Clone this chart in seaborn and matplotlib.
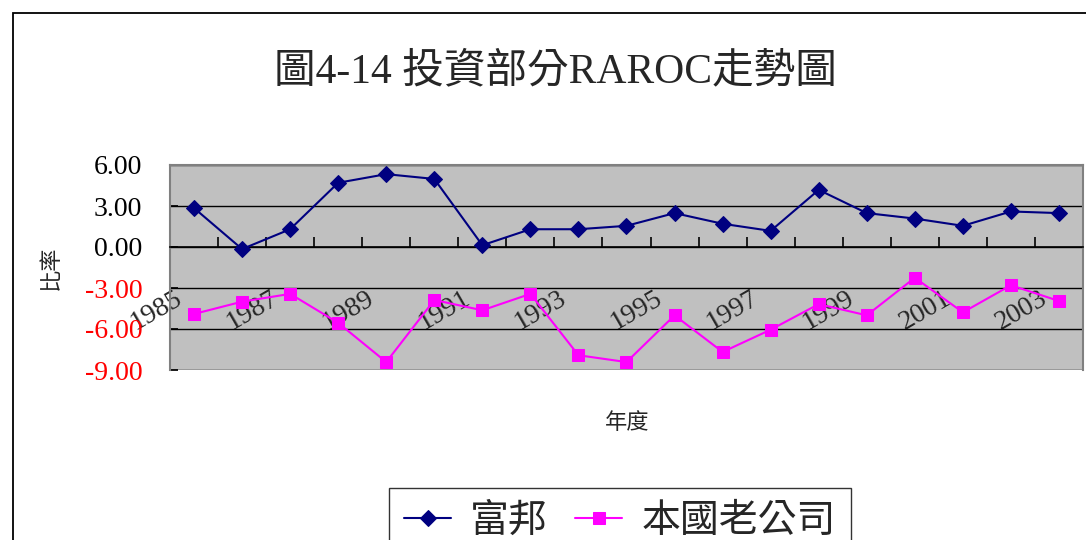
import matplotlib
matplotlib.use('Agg')
import matplotlib.pyplot as plt
import matplotlib.transforms as mtransforms
from matplotlib.patches import Rectangle
from matplotlib.ticker import FixedLocator
import seaborn as sns
import pandas as pd

# ---- data ----
years = list(range(1985, 2004))
fubon = [2.85, -0.15, 1.30, 4.70, 5.33, 4.98, 0.13, 1.30, 1.30, 1.55,
         2.48, 1.70, 1.18, 4.18, 2.48, 2.08, 1.55, 2.60, 2.48]
parent = [-4.90, -4.00, -3.43, -5.55, -8.42, -3.88, -4.63, -3.43, -7.92, -8.42,
          -5.00, -7.68, -6.05, -4.18, -5.00, -2.25, -4.78, -2.80, -3.95]
series_names = ['富邦', '本國老公司']
x_label_years = list(range(1985, 2004, 2))
y_ticks = [-9, -6, -3, 0, 3, 6]
y_tick_labels = ['-9.00', '-6.00', '-3.00', '0.00', '3.00', '6.00']
title = '圖4-14 投資部分RAROC走勢圖'
x_title = '年度'
y_title = '比率'

sns.set_theme(style='white')
plt.rcParams['font.family'] = ['Liberation Serif', 'Noto Sans CJK TC', 'DejaVu Sans']
plt.rcParams['axes.unicode_minus'] = False

W, H = 1086, 540
fig = plt.figure(figsize=(W / 100, H / 100), dpi=100)
fig.patch.set_facecolor('white')

# outer chart border (top & left visible)
fig.patches.append(Rectangle((13 / W, -0.2), 1.5, 1 - 13 / H + 0.2,
                             transform=fig.transFigure, fill=False,
                             edgecolor='black', lw=1.3, zorder=0))

ax = fig.add_axes([170 / W, 1 - 370 / H, (1083 - 170) / W, (370 - 165) / H])
ax.set_facecolor('#C0C0C0')

df = pd.DataFrame({'year': years, 'fubon': fubon, 'parent': parent})
sns.lineplot(data=df, x='year', y='fubon', ax=ax, color='#000080', marker='D',
             markersize=8, markeredgecolor='#000080', linewidth=1.5,
             label=series_names[0], zorder=5)
sns.lineplot(data=df, x='year', y='parent', ax=ax, color='#FF00FF', marker='s',
             markersize=8, markeredgecolor='#FF00FF', linewidth=1.5,
             label=series_names[1], zorder=5)
handles, labels = ax.get_legend_handles_labels()
ax.get_legend().remove()

ax.set_xlim(years[0] - 0.5, years[-1] + 0.5)
ax.set_ylim(-9, 6)
ax.set_yticks(y_ticks)
ax.set_yticklabels(y_tick_labels)
for lbl, v in zip(ax.get_yticklabels(), y_ticks):
    lbl.set_color('red' if v < 0 else 'black')
ax.tick_params(axis='y', labelsize=20, pad=20, direction='in', length=6,
               color='black', left=True)
ax.yaxis.grid(True, color='black', lw=1)
ax.xaxis.grid(False)

for side in ['top', 'left', 'right']:
    ax.spines[side].set_color('#808080')
    ax.spines[side].set_linewidth(1.5)
    ax.spines[side].set_visible(True)
ax.spines['bottom'].set_position(('data', 0))
ax.spines['bottom'].set_color('black')
ax.spines['bottom'].set_linewidth(1.2)

# x ticks: labels at category centers, tick marks at category boundaries
ax.set_xticks(x_label_years)
ax.set_xticklabels([str(y) for y in x_label_years])
ax.xaxis.set_minor_locator(FixedLocator([y + 0.5 for y in years]))
ax.tick_params(axis='x', which='major', length=0, labelsize=20, pad=36)
ax.tick_params(axis='x', which='minor', direction='in', length=7, width=1.2,
               color='black', bottom=True)
offset = mtransforms.ScaledTranslation(-0.14, 0, fig.dpi_scale_trans)
for lbl in ax.get_xticklabels():
    lbl.set_rotation(30)
    lbl.set_ha('right')
    lbl.set_va('center')
    lbl.set_rotation_mode('anchor')
    lbl.set_transform(lbl.get_transform() + offset)
ax.set_xlabel('')
ax.set_ylabel('')

fig.text(555 / W, 1 - 72 / H, title, ha='center', va='center', fontsize=30)
fig.text(627 / W, 1 - 424 / H, x_title, ha='center', va='center', fontsize=16)
fig.text(51 / W, 1 - 268 / H, y_title, ha='center', va='center', fontsize=16,
         rotation=90)

leg = fig.legend(handles, labels, loc='upper center',
                 bbox_to_anchor=(620 / W, 1 - 469 / H), ncol=2, fontsize=28,
                 frameon=True, fancybox=False, edgecolor='black',
                 handlelength=1.2, handletextpad=0.5, columnspacing=0.7,
                 borderpad=0.4)
leg.get_frame().set_linewidth(1.0)

fig.savefig('out.png', dpi=100)
